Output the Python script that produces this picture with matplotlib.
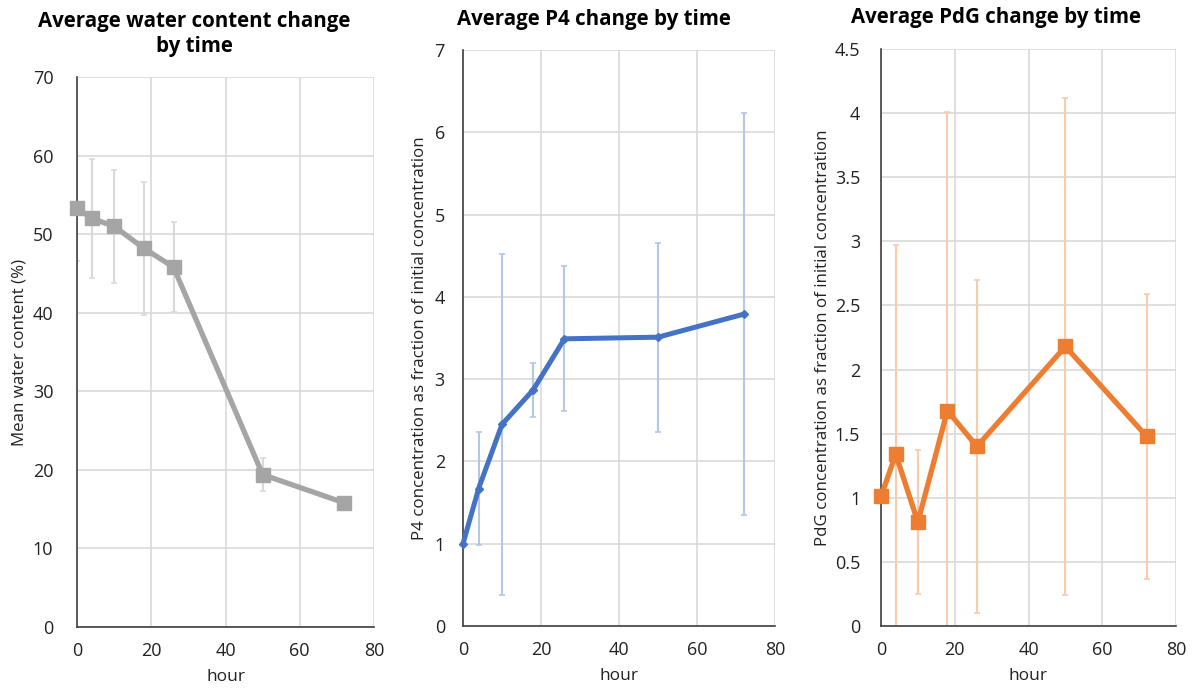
import matplotlib.pyplot as plt

plt.rcParams['font.family'] = ['Open Sans', 'DejaVu Sans']

hours = [0, 4, 10, 18, 26, 50, 72]

water = [53.3, 52.0, 51.0, 48.2, 45.8, 19.4, 15.8]
water_err = [6.7, 7.6, 7.2, 8.5, 5.7, 2.05, 0.4]

p4 = [1.0, 1.67, 2.45, 2.87, 3.49, 3.51, 3.79]
p4_err = [0.0, 0.69, 2.07, 0.33, 0.88, 1.15, 2.44]

pdg = [1.01, 1.34, 0.81, 1.68, 1.40, 2.18, 1.48]
pdg_err = [0.0, 1.63, 0.56, 2.33, 1.30, 1.94, 1.11]

titles = ['Average water content change\nby time',
          'Average P4 change by time',
          'Average PdG change by time']
ylabels = ['Mean water content (%)',
           'P4 concentration as fraction of initial concentration',
           'PdG concentration as fraction of initial concentration']

fig = plt.figure(figsize=(11.93, 6.91), dpi=100)
W, H = 1193, 691

def make_axes(left, right, top, bottom):
    return fig.add_axes([left / W, 1 - bottom / H, (right - left) / W, (bottom - top) / H])

ax1 = make_axes(77, 374, 77, 627)
ax2 = make_axes(463, 775, 50, 626)
ax3 = make_axes(881, 1176, 49, 626)

def style(ax, ymax, ystep, ylabel, ypad):
    ax.set_xlim(0, 80)
    ax.set_ylim(0, ymax)
    ax.set_xticks(range(0, 81, 20))
    n = int(round(ymax / ystep))
    ticks = [i * ystep for i in range(n + 1)]
    ax.set_yticks(ticks)
    ax.set_yticklabels([('%g' % t) for t in ticks])
    ax.grid(True, color='#d9d9d9', linewidth=1.2)
    ax.set_axisbelow(True)
    for s in ['top', 'right']:
        ax.spines[s].set_visible(False)
    for s in ['left', 'bottom']:
        ax.spines[s].set_color('#404040')
        ax.spines[s].set_linewidth(1.2)
    ax.tick_params(length=0, labelsize=13, colors='#222222')
    ax.tick_params(axis='x', pad=11)
    ax.tick_params(axis='y', pad=ypad)
    ax.set_xlabel('hour', fontsize=12.5, labelpad=6, color='#222222')
    ax.set_ylabel(ylabel, fontsize=12.2, color='#222222')

# panel 1
ax1.errorbar(hours, water, yerr=water_err, fmt='none', ecolor='#d9d9d9',
             elinewidth=1.5, capsize=2, capthick=1.2, zorder=2)
ax1.plot(hours, water, color='#a5a5a5', linewidth=3.8, marker='s',
         markersize=10, zorder=3, clip_on=False)
style(ax1, 70, 10, ylabels[0], 17)
ax1.yaxis.set_label_coords(-0.165, 0.5)

# panel 2
ax2.errorbar(hours, p4, yerr=p4_err, fmt='none', ecolor='#b4c7e7',
             elinewidth=1.5, capsize=2, capthick=1.2, zorder=2)
ax2.plot(hours, p4, color='#4472c4', linewidth=3.6, marker='D',
         markersize=4, zorder=3, clip_on=False)
style(ax2, 7, 1, ylabels[1], 13)
ax2.yaxis.set_label_coords(-0.112, 0.5)

# panel 3
ax3.errorbar(hours, pdg, yerr=pdg_err, fmt='none', ecolor='#f8cbad',
             elinewidth=1.5, capsize=2, capthick=1.2, zorder=2)
ax3.plot(hours, pdg, color='#ed7d31', linewidth=3.8, marker='s',
         markersize=10, zorder=3, clip_on=False)
style(ax3, 4.5, 0.5, ylabels[2], 15)
ax3.yaxis.set_label_coords(-0.17, 0.5)

fig.text(194 / W, 1 - 34 / H, titles[0], ha='center', va='center',
         fontsize=14.8, fontweight='bold', linespacing=1.3)
fig.text(594 / W, 1 - 20 / H, titles[1], ha='center', va='center',
         fontsize=14.8, fontweight='bold')
fig.text(996 / W, 1 - 18 / H, titles[2], ha='center', va='center',
         fontsize=14.8, fontweight='bold')

fig.savefig('out.png', dpi=100)
